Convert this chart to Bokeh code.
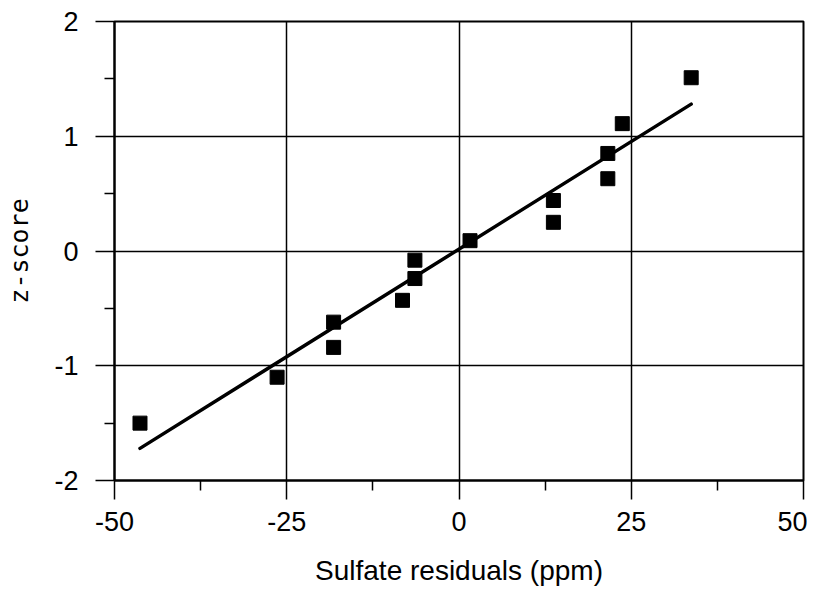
from bokeh.plotting import figure
from bokeh.models import Range1d, FixedTicker
from bokeh.embed import file_html
from bokeh.resources import INLINE

# Data
resid = [-46.3, -26.4, -18.2, -18.2, -8.2, -6.4, -6.4, 1.6, 13.7, 13.7, 21.6, 21.6, 23.7, 33.7]
zscore = [-1.50, -1.10, -0.84, -0.62, -0.43, -0.24, -0.08, 0.09, 0.25, 0.44, 0.63, 0.85, 1.11, 1.51]
fit_x = [-46.3, 33.7]
fit_y = [-1.72, 1.28]

x_ticks = [-50, -25, 0, 25, 50]
x_tick_labels = ["-50", "-25", "0", "25", "50"]
x_minor = [-37.5, -12.5, 12.5, 37.5]
y_ticks = [-2, -1, 0, 1, 2]
y_tick_labels = ["-2", "-1", "0", "1", "2"]
y_minor = [-1.5, -0.5, 0.5, 1.5]

p = figure(frame_width=689, frame_height=459, output_backend="svg", toolbar_location=None,
           x_range=Range1d(-50, 50), y_range=Range1d(-2, 2),
           min_border_left=114, min_border_right=4, min_border_top=21, min_border_bottom=100)
p.background_fill_color = "white"
p.border_fill_color = "white"
p.outline_line_color = "black"
p.outline_line_width = 2
p.outline_line_alpha = 1

xt = FixedTicker(ticks=x_ticks, minor_ticks=x_minor)
yt = FixedTicker(ticks=y_ticks, minor_ticks=y_minor)
p.xaxis.ticker = xt
p.yaxis.ticker = yt
p.xgrid.ticker = xt
p.ygrid.ticker = yt
p.xaxis.major_label_overrides = {t: l for t, l in zip(x_ticks, x_tick_labels)}
p.yaxis.major_label_overrides = {t: l for t, l in zip(y_ticks, y_tick_labels)}

for ax in (p.xaxis, p.yaxis):
    ax.axis_line_color = "black"
    ax.axis_line_width = 2
    ax.major_tick_in = 0
    ax.major_tick_out = 19
    ax.minor_tick_in = 0
    ax.minor_tick_out = 10
    ax.major_tick_line_color = "black"
    ax.minor_tick_line_color = "black"
    ax.major_tick_line_width = 1.5
    ax.minor_tick_line_width = 1.5
    ax.major_label_text_font = "Liberation Sans"
    ax.major_label_text_font_size = "27px"
    ax.major_label_text_color = "black"
    ax.axis_label_text_font_style = "normal"
    ax.axis_label_text_color = "black"

p.xaxis.major_label_standoff = 12
p.yaxis.major_label_standoff = 17

p.xaxis.axis_label = "Sulfate residuals (ppm)"
p.xaxis.axis_label_text_font = "Liberation Sans"
p.xaxis.axis_label_text_font_size = "28px"
p.xaxis.axis_label_standoff = 21

p.yaxis.axis_label = "z-score"
p.yaxis.axis_label_text_font = "DejaVu Sans Mono"
p.yaxis.axis_label_text_font_size = "25px"
p.yaxis.axis_label_standoff = 17

for g in (p.xgrid, p.ygrid):
    g.grid_line_color = "black"
    g.grid_line_width = 1.5
    g.grid_line_alpha = 1

p.line(fit_x, fit_y, line_width=3.5, line_color="black", line_cap="round")
p.scatter(resid, zscore, marker="square", size=14, fill_color="black", line_color="black")

open("out.html", "w").write(file_html(p, INLINE))
